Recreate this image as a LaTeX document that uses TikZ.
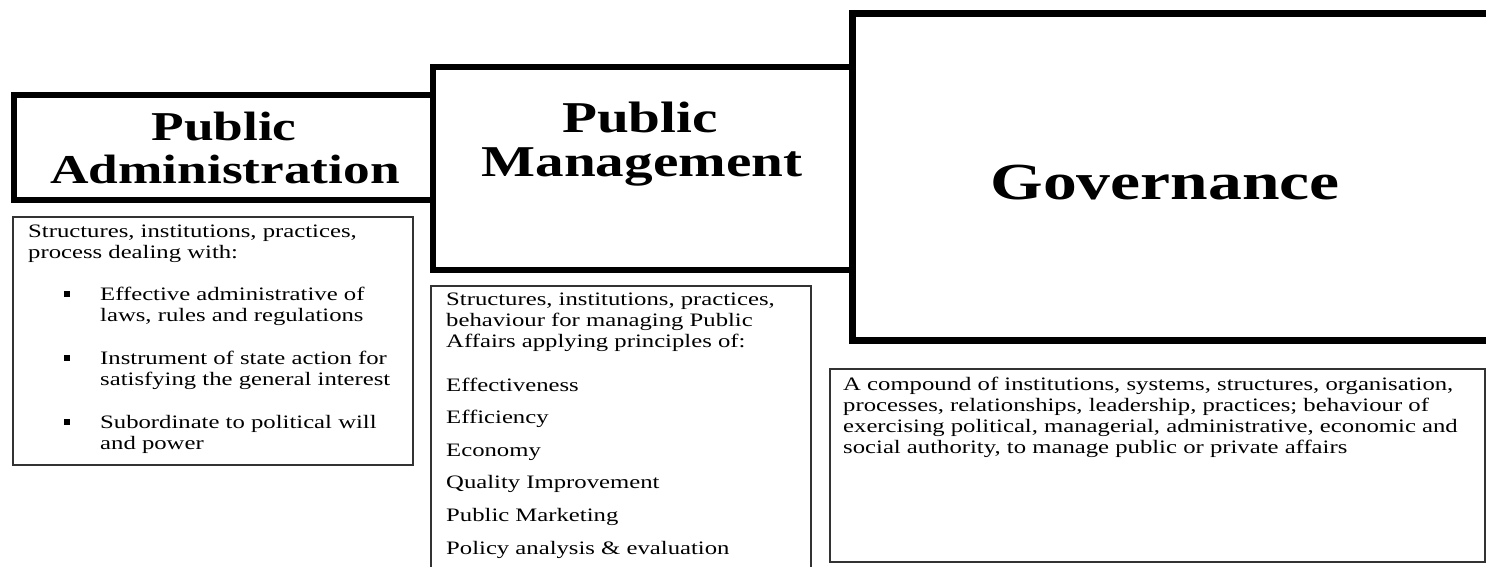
\documentclass[tikz,border=0pt]{standalone}
\usepackage{fontspec}
\setmainfont{Liberation Serif}[FakeStretch=1.3]
\usetikzlibrary{positioning}
\tikzstyle{titlebox} = [draw=black, line width=6pt, fill=white, inner sep=0pt, anchor=north west]
\tikzstyle{infobox} = [draw=black!80, line width=1.5pt, inner sep=0pt, anchor=north west]
\tikzstyle{infotext} = [font=\fontsize{19}{21}\selectfont, align=left, inner sep=0pt, anchor=base west]
\tikzset{headtext/.style={font=\fontsize{#1}{#1}\selectfont\bfseries, inner sep=0pt, anchor=base}}
\newcommand{\itemgap}{\hspace*{72pt}}
\newcommand{\sqbullet}{\hspace*{72pt}\llap{\raisebox{3pt}{\rule{6pt}{6pt}}\hspace{30pt}}}

\begin{document}
\begin{tikzpicture}[x=1pt, y=-1pt]
  \useasboundingbox (0,0) rectangle (1486,567);
  \clip (0,0) rectangle (1486,567);

  % Heading boxes, each one laid over the one before
  \node[titlebox, minimum width=419pt, minimum height=105pt] (pabox) at (11,92) {};
  \node[titlebox, minimum width=419pt, minimum height=203pt] (pmbox) at (430,64) {};
  \node[titlebox, line width=7pt, minimum width=680pt, minimum height=327pt] (govbox) at (849,10) {};

  \node[headtext=41] (pa1) at (224,141) {Public};
  \node[headtext=41] (pa2) at (225,183) {Administration};
  \node[headtext=44] (pm1) at (640,132) {Public};
  \node[headtext=44] (pm2) at (642,176) {Management};
  \node[headtext=52] (gov) at (1165,199) {Governance};

  % Description boxes (text placed by its last line)
  \node[infobox, minimum width=400pt, minimum height=248pt] (pabody) at (12,216) {};
  \node[infobox, minimum width=380pt, minimum height=300pt] (pmbody) at (430,285) {};
  \node[infobox, minimum width=655pt, minimum height=193pt] (govbody) at (829,368) {};

  \node[infotext] (patext) at (28,449) {Structures, institutions, practices,\\
    process dealing with:\\[21pt]
    \sqbullet Effective administrative of\\
    \itemgap laws, rules and regulations\\[22pt]
    \sqbullet Instrument of state action for\\
    \itemgap satisfying the general interest\\[22pt]
    \sqbullet Subordinate to political will\\
    \itemgap and power};

  \node[infotext] (pmtext) at (446,554) {Structures, institutions, practices,\\
    behaviour for managing Public\\
    Affairs applying principles of:\\[23pt]
    Effectiveness\\[11.6pt]
    Efficiency\\[11.6pt]
    Economy\\[11.6pt]
    Quality Improvement\\[11.6pt]
    Public Marketing\\[11.6pt]
    Policy analysis \& evaluation};

  \node[infotext] (govtext) at (843,453) {A compound of institutions, systems, structures, organisation,\\
    processes, relationships, leadership, practices; behaviour of\\
    exercising political, managerial, administrative, economic and\\
    social authority, to manage public or private affairs};
\end{tikzpicture}
\end{document}
